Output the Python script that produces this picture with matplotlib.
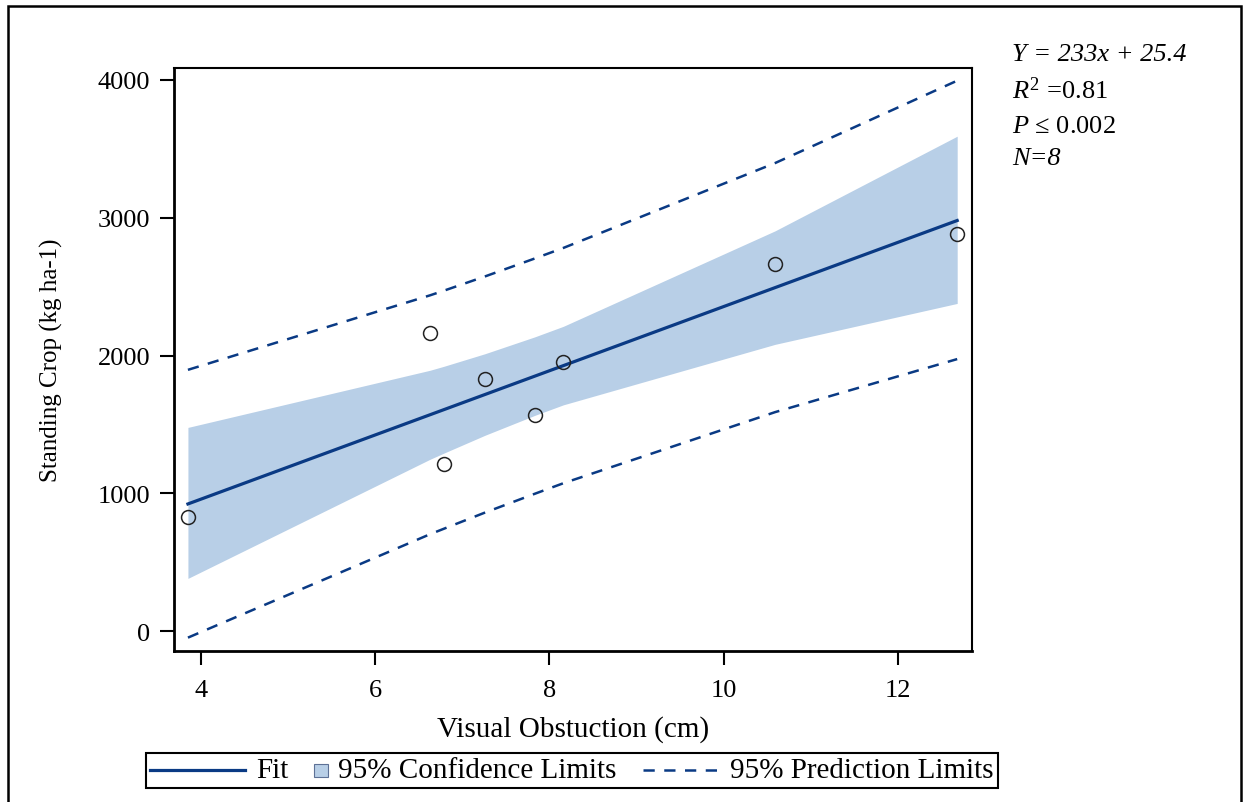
import matplotlib
matplotlib.use("Agg")
import matplotlib.pyplot as plt
from matplotlib.lines import Line2D
from matplotlib.patches import Rectangle
from matplotlib.offsetbox import AnchoredOffsetbox, DrawingArea, HPacker, TextArea

plt.rcParams["font.family"] = ["Liberation Serif", "DejaVu Serif"]
plt.rcParams["mathtext.fontset"] = "custom"
plt.rcParams["mathtext.rm"] = "Liberation Serif"
plt.rcParams["mathtext.it"] = "Liberation Serif:italic"

# Observed plots
obstruction = [3.85, 6.63, 6.79, 7.26, 7.83, 8.16, 10.59, 12.68]
standing_crop = [830, 2160, 1210, 1830, 1565, 1950, 2665, 2880]

# Fitted line  Y = 233x + 25.4
slope = 233
intercept = 25.4

# 95% limits evaluated at each observed x
conf_upper = [1478, 1893, 1922, 2013, 2135, 2212, 2905, 3592]
conf_lower = [382, 1247, 1292, 1421, 1565, 1642, 2081, 2378]
pred_upper = [1896, 2437, 2471, 2574, 2704, 2781, 3397, 3995]
pred_lower = [-48, 703, 743, 860, 996, 1073, 1589, 1974]

stats_lines = [
    ("Y = 233x + 25.4", "italic"),
    (r"$\mathit{R}^2$ =0.81", "normal"),
    (r"$\mathit{P}$ ≤ 0.002", "normal"),
    ("N=8", "italic"),
]

fit_color = "#0a3a84"
band_color = "#b8cfe7"
W, H = 1244, 803

fig = plt.figure(figsize=(W / 100, H / 100), dpi=100)
ax = fig.add_axes([174 / W, 1 - 652 / H, (972 - 174) / W, (652 - 69) / H])

ax.fill_between(obstruction, conf_lower, conf_upper, color=band_color, lw=0, zorder=1)
x_ends = [min(obstruction), max(obstruction)]
ax.plot(x_ends, [slope * x + intercept for x in x_ends], color=fit_color, lw=2.3, zorder=3)
for lim in (pred_upper, pred_lower):
    ax.plot(obstruction, lim, color=fit_color, lw=1.8, linestyle=(0, (4.5, 3.8)), zorder=3)
ax.plot(obstruction, standing_crop, "o", mfc="none", mec="#222222", mew=1.1, ms=10, zorder=4)

ax.set_xlim(3.69, 12.85)
ax.set_ylim(-145, 4087)
ax.set_xticks([4, 6, 8, 10, 12])
ax.set_yticks([0, 1000, 2000, 3000, 4000])
ax.tick_params(direction="out", length=10, width=1.5, labelsize=19, pad=7)
ax.tick_params(axis="x", pad=10)
for side in ("left", "bottom"):
    ax.spines[side].set_linewidth(2)
for side in ("top", "right"):
    ax.spines[side].set_linewidth(1.5)

ax.set_xlabel("Visual Obstuction (cm)", fontsize=21)
ax.xaxis.set_label_coords(0.5, -0.11)
ax.set_ylabel("Standing Crop (kg ha-1)", fontsize=18)
ax.yaxis.set_label_coords(-0.139, 0.5)

# regression summary
for (txt, style), yc in zip(stats_lines, [55, 91, 127, 159]):
    fig.text(1012 / W, 1 - yc / H, txt, fontsize=19, style=style, va="center", ha="left")

# legend built from boxes so each key keeps its own width
def key_line(width, **kw):
    da = DrawingArea(width, 12, 0, 0)
    da.add_artist(Line2D([0, width], [6, 6], color=fit_color, **kw))
    return da

def key_square():
    da = DrawingArea(10, 12, 0, 0)
    da.add_artist(Rectangle((0, 1), 10, 10, facecolor=band_color, edgecolor="#5d7196", lw=0.8))
    return da

text_props = dict(size=21)
entries = [
    HPacker(children=[key_line(68, lw=2.3), TextArea("Fit", textprops=text_props)], sep=8, align="center"),
    HPacker(children=[key_square(), TextArea("95% Confidence Limits", textprops=text_props)], sep=7, align="center"),
    HPacker(children=[key_line(55, lw=1.8, linestyle=(0, (4.5, 3.8))),
                      TextArea("95% Prediction Limits", textprops=text_props)], sep=8, align="center"),
]
row = HPacker(children=entries, sep=19, align="center")
legend_box = AnchoredOffsetbox(loc="center", child=row, pad=0.15, borderpad=0, frameon=True,
                               bbox_to_anchor=(572 / W, 1 - 771.5 / H),
                               bbox_transform=fig.transFigure, prop=dict(size=21))
legend_box.patch.set_edgecolor("black")
legend_box.patch.set_linewidth(1.5)
fig.add_artist(legend_box)

# outer frame
fig.add_artist(Rectangle((8 / W, -0.05), (1241 - 8) / W, 1.05 - 7 / H, transform=fig.transFigure,
                         fill=False, edgecolor="black", lw=1.8))

fig.savefig("out.png", dpi=100)
